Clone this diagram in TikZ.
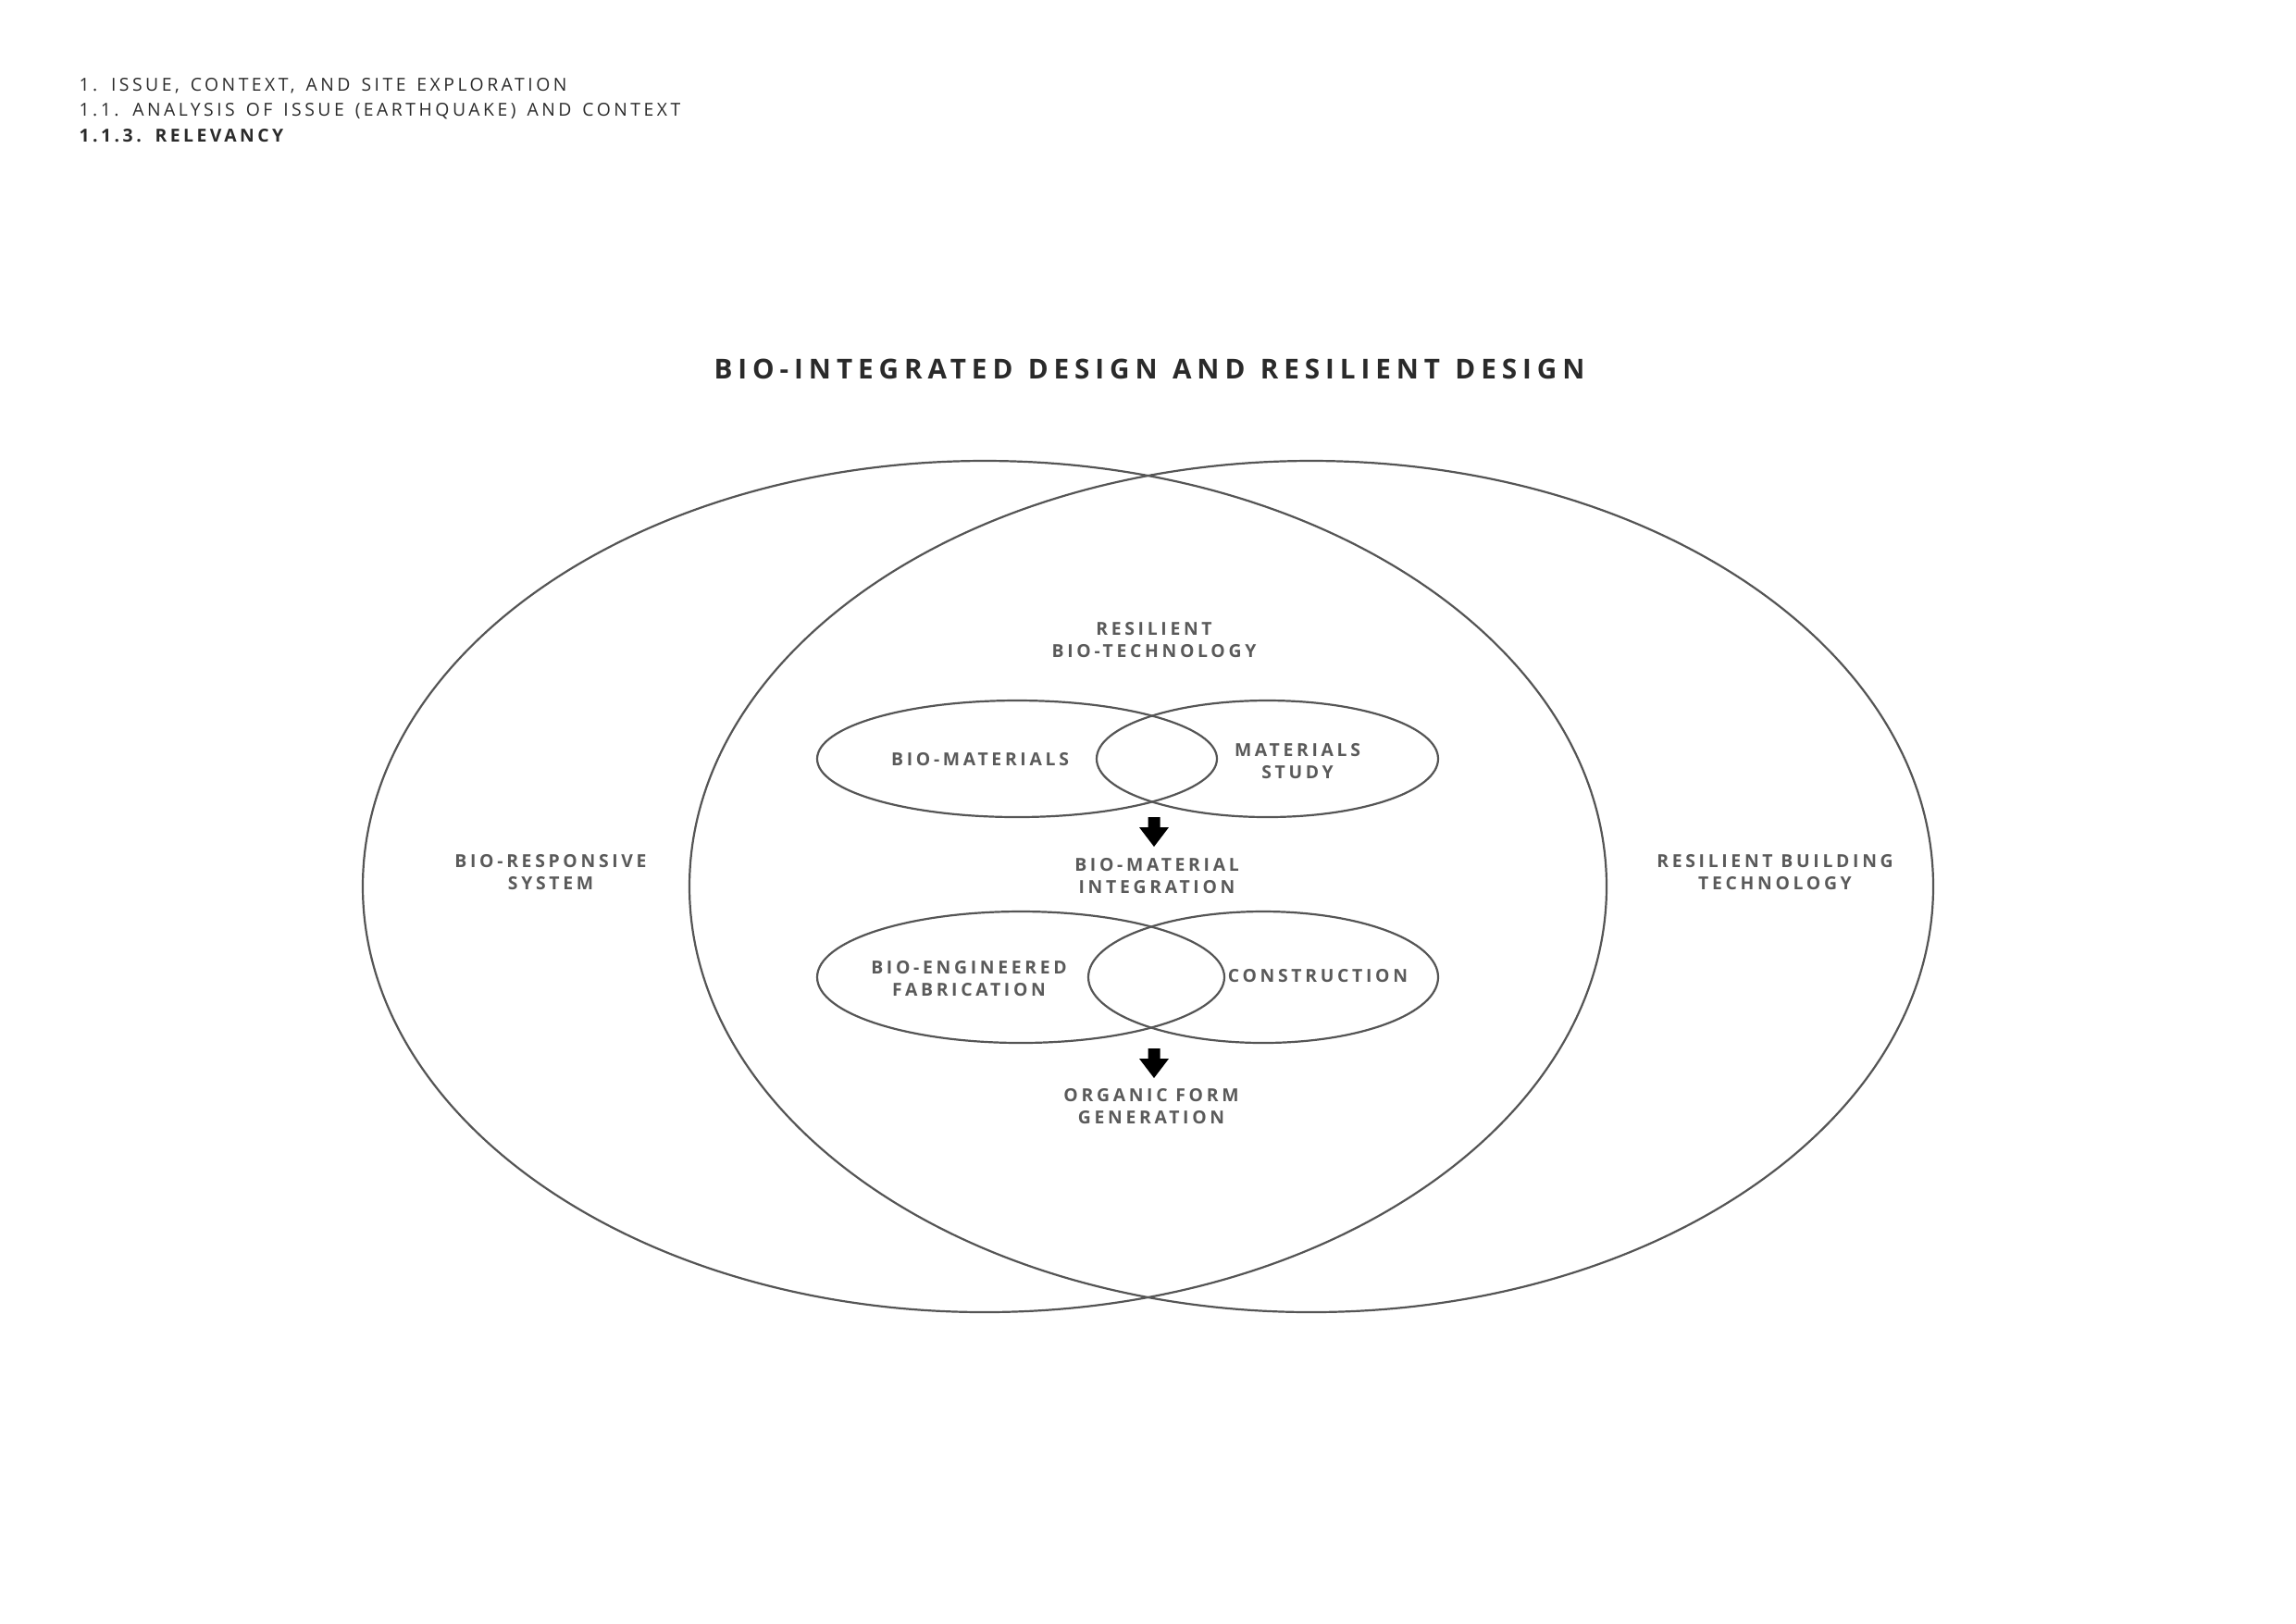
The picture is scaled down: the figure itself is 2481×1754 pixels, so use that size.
\documentclass[tikz,border=0pt]{standalone}
\usepackage{fontspec}
\usepackage{xcolor}
\usepackage{tikz}
\usetikzlibrary{shapes.geometric, positioning}

\newfontfamily\headfont[LetterSpace=18, WordSpace=1.4]{Open Sans}
\newfontfamily\titlefont[LetterSpace=20, WordSpace=1.2]{Open Sans}
\newfontfamily\labelfont[LetterSpace=19]{Open Sans}
\newcommand\pxu{0.11971mm}

\definecolor{linegray}{HTML}{555555}
\definecolor{labelgray}{HTML}{5A5A5A}
\definecolor{inkgray}{HTML}{2A2A2A}

\begin{document}
\begin{tikzpicture}[
  x=0.11971mm, y=-0.11971mm,
  venn/.style={ellipse, draw=linegray, line width=0.75pt, inner sep=0pt},
  header/.style={anchor=base west, inner sep=0pt, text=inkgray,
                 font=\headfont\fontsize{6.6}{8}\selectfont},
  label/.style={align=center, inner sep=0pt, text=labelgray,
                font=\labelfont\bfseries\fontsize{6.6}{8.2}\selectfont}
]
\useasboundingbox (0,0) rectangle (2481,1754);

% header
\node[header] (h1) at (85,98) {1. ISSUE, CONTEXT, AND SITE EXPLORATION};
\node[header] (h2) at (85,125) {1.1. ANALYSIS OF ISSUE (EARTHQUAKE) AND CONTEXT};
\node[header, font=\headfont\bfseries\fontsize{6.6}{8}\selectfont] (h3) at (85,153) {1.1.3. RELEVANCY};

% title
\node[inner sep=0pt, text=inkgray,
      font=\titlefont\bfseries\fontsize{10.1}{12}\selectfont] (title) at (1242,399)
  {BIO-INTEGRATED DESIGN AND RESILIENT DESIGN};

% big circles
\node[venn, minimum width=1344*\pxu, minimum height=920*\pxu] (bio) at (1064,958) {};
\node[venn, minimum width=1344*\pxu, minimum height=920*\pxu] (res) at (1417,958) {};

% small circles
\node[venn, minimum width=432*\pxu, minimum height=126*\pxu] (mat) at (1099,820) {};
\node[venn, minimum width=369*\pxu, minimum height=126*\pxu] (study) at (1369.5,820) {};
\node[venn, minimum width=440*\pxu, minimum height=142*\pxu] (fab) at (1103,1056) {};
\node[venn, minimum width=378*\pxu, minimum height=142*\pxu] (cons) at (1365,1056) {};

% labels
\node[label] (resbio) at (1247,692) {RESILIENT\\BIO-TECHNOLOGY};
\node[label] (biomat) at (1059,821) {BIO-MATERIALS};
\node[label] (matstudy) at (1402,823) {MATERIALS\\STUDY};
\node[label] (integ) at (1250,947) {BIO-MATERIAL\\INTEGRATION};
\node[label] (bioeng) at (1047,1058) {BIO-ENGINEERED\\FABRICATION};
\node[label] (constr) at (1424,1055) {CONSTRUCTION};
\node[label] (organic) at (1244,1196) {ORGANIC FORM\\GENERATION};
\node[label] (biores) at (595,943) {BIO-RESPONSIVE\\SYSTEM};
\node[label] (resbuild) at (1918,943) {RESILIENT BUILDING\\TECHNOLOGY};

% arrows
\coordinate (a1) at (1247,883);
\coordinate (a2) at (1247,1133);
\fill[black] (a1) ++(-6.5,0) -- ++(13,0) -- ++(0,11) -- ++(9.5,0) -- ++(-16,21)
  -- ++(-16,-21) -- ++(9.5,0) -- cycle;
\fill[black] (a2) ++(-6.5,0) -- ++(13,0) -- ++(0,11) -- ++(9.5,0) -- ++(-16,21)
  -- ++(-16,-21) -- ++(9.5,0) -- cycle;
\end{tikzpicture}
\end{document}
